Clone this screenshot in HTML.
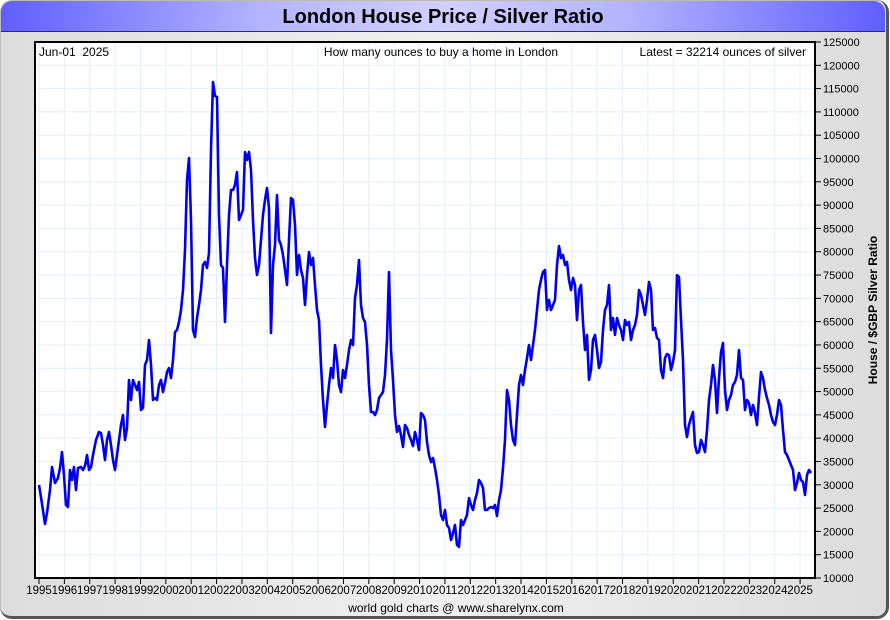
<!DOCTYPE html>
<html><head><meta charset="utf-8"><style>
html,body{margin:0;padding:0;background:#fff;}
body{width:890px;height:620px;position:relative;overflow:hidden;font-family:"Liberation Sans",sans-serif;}
.panel{position:absolute;left:0;top:0;width:886px;height:616px;border-radius:12px;background:linear-gradient(90deg,#dcdcdc,#f0f0f0 50%,#dcdcdc);border-right:3px solid #555;border-bottom:3px solid #555;box-shadow:inset 1px 1px 0 #bbb;}
.title{position:absolute;left:1px;top:1px;width:884px;height:30px;border-radius:11px 11px 0 0;background:linear-gradient(90deg,#5f5fff,#b5b5ff 30%,#d0d0ff 50%,#b5b5ff 70%,#5f5fff);border-bottom:1px solid #333;text-align:center;font-weight:bold;font-size:20px;line-height:32px;color:#000;}
</style></head><body>
<div class="panel"><div class="title">London House Price / Silver Ratio</div></div>
<svg width="890" height="620" style="position:absolute;left:0;top:0" font-family="Liberation Sans, sans-serif">
<rect x="35" y="42" width="780" height="536" fill="#fff"/>
<g stroke="#e2eff8" stroke-width="1" id="grid"></g>
<rect x="35" y="42" width="780" height="536" fill="none" stroke="#000" stroke-width="2"/>
<g id="ticks" stroke="#000" stroke-width="1"></g>
<g id="labels" font-size="11" fill="#000"></g>
<text x="39" y="56" font-size="12">Jun-01 &#160;2025</text>
<text x="441" y="56" font-size="12" text-anchor="middle">How many ounces to buy a home in London</text>
<text x="806" y="56" font-size="12" text-anchor="end">Latest = 32214 ounces of silver</text>
<text x="877" y="310" font-size="12" font-weight="bold" text-anchor="middle" transform="rotate(-90 877 310)">House / $GBP Silver Ratio</text>
<text x="456" y="612" font-size="12" text-anchor="middle">world gold charts @ www.sharelynx.com</text>
<polyline id="line" fill="none" stroke="#0000ee" stroke-width="2.6" stroke-linejoin="round"/>
</svg>
<script>
const ns="http://www.w3.org/2000/svg";
function el(p,t,a,txt){const e=document.createElementNS(ns,t);for(const k in a)e.setAttribute(k,a[k]);if(txt)e.textContent=txt;document.getElementById(p).appendChild(e);}
for(let i=0;i<=23;i++){const v=125000-i*5000;const y=42+i*536/23;
 el("grid","line",{x1:35,x2:815,y1:y,y2:y});
 el("ticks","line",{x1:815,x2:821,y1:y,y2:y});
 el("labels","text",{x:823,y:y+4},String(v));}
for(let i=0;i<=30;i++){const x=39+i*25.37;
 el("grid","line",{x1:x,x2:x,y1:42,y2:578});
 el("ticks","line",{x1:x,x2:x,y1:578,y2:584});
 el("labels","text",{x:x,y:594,"text-anchor":"middle","font-size":"11.5"},String(1995+i));}
const d=[39,485,41,497,45,524,47,513,50,490,52,467,55,483,58,478,60,468,62,452,64,475,66,505,68,507,70,470,72,480,74,467,76,490,78,468,81,467,83,470,85,466,87,455,89,470,91,467,93,455,96,440,99,432,101,433,103,445,105,460,107,440,109,432,111,445,113,460,115,470,117,455,119,440,121,425,123,415,125,440,127,428,129,380,131,400,133,380,135,385,137,390,139,382,141,410,143,408,145,365,147,360,149,340,151,365,153,400,155,398,157,400,159,385,161,380,163,392,165,383,167,372,169,368,171,378,173,360,175,332,177,330,179,322,181,310,183,290,185,250,187,180,189,158,191,220,193,330,195,337,197,318,199,305,201,290,203,265,205,262,207,268,209,253,211,150,213,82,215,96,217,97,219,215,221,265,223,268,225,322,227,265,229,215,231,190,233,190,235,185,237,172,239,220,241,215,243,210,245,152,247,160,249,152,251,170,253,220,255,258,257,275,259,265,261,240,263,215,265,200,267,188,269,208,271,333,273,265,275,245,277,195,279,240,281,245,283,255,285,270,287,285,289,240,291,198,293,200,295,225,297,275,299,255,301,270,303,278,305,305,307,275,309,252,311,265,313,258,315,285,317,310,319,320,321,365,323,400,325,427,327,405,329,385,331,368,333,378,335,345,337,360,339,385,341,392,343,370,345,378,347,365,349,350,351,340,353,345,355,298,357,285,359,260,361,305,363,318,365,322,367,345,369,385,371,412,373,412,375,415,377,410,379,398,381,395,383,392,385,375,387,340,389,272,391,350,393,380,395,415,397,432,399,426,401,435,403,447,405,425,407,428,409,435,411,440,413,446,415,432,417,440,419,450,421,413,423,415,425,420,427,442,429,455,431,462,433,458,435,468,437,480,439,495,441,515,443,520,445,510,447,525,449,528,451,540,453,533,455,525,457,545,459,547,461,520,463,525,465,520,467,515,469,498,471,505,473,510,475,500,477,493,479,480,481,483,483,488,485,510,487,510,489,508,491,507,493,508,495,505,497,516,499,500,501,490,503,468,505,440,507,390,509,400,511,425,513,440,515,445,517,415,519,385,521,375,523,385,525,370,527,358,529,345,531,360,533,345,535,330,537,310,539,290,541,280,543,272,545,270,547,310,549,300,551,310,553,305,555,300,557,265,559,246,561,258,563,255,565,265,567,262,569,280,571,290,573,278,575,285,577,320,579,290,581,285,583,322,585,350,587,335,589,380,591,370,593,340,595,335,597,350,599,368,601,362,603,330,605,310,607,305,609,285,611,330,613,318,615,335,617,318,619,325,621,330,623,340,625,320,627,325,629,322,631,340,633,330,635,325,637,315,639,290,641,295,643,305,645,315,647,300,649,282,651,290,653,330,655,328,657,338,659,340,661,370,663,378,665,358,667,354,669,355,671,370,673,362,675,350,677,275,679,277,681,320,683,360,685,425,687,437,689,425,691,418,693,412,695,445,697,453,699,452,701,440,703,445,705,452,707,430,709,400,711,385,713,365,715,380,717,413,719,378,721,352,723,343,725,390,727,410,729,400,731,395,733,385,735,382,737,375,739,350,741,378,743,380,745,410,747,400,749,403,751,415,753,405,755,413,757,425,759,397,761,372,763,378,765,390,767,398,769,405,771,415,773,422,775,425,777,415,779,400,781,405,783,430,785,452,787,455,789,460,791,465,793,470,795,490,797,483,799,473,801,480,803,482,805,495,807,475,809,470,811,473];
let s="";for(let i=0;i<d.length;i+=2)s+=d[i]+","+d[i+1]+" ";
document.getElementById("line").setAttribute("points",s);
</script>
</body></html>
